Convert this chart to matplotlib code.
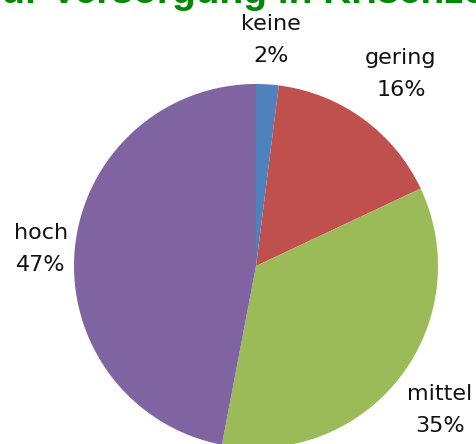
import matplotlib.pyplot as plt

labels = ["keine", "gering", "mittel", "hoch"]
shares = [2, 16, 35, 47]
colors = ["#4F81BD", "#C0504D", "#9BBB59", "#8064A2"]
title = "zur Versorgung in Krisenzeiten"

fig = plt.figure(figsize=(4.76, 4.44), dpi=100)
ax = fig.add_axes([0, 0, 1, 1])

ax.pie(shares, colors=colors, startangle=90, counterclock=False,
       center=(256, 178), radius=182, frame=True)

# label positions in pixel coords (y from top)
label_pos = [(271, 40), (401, 74), (440, 410), (41, 249)]
for lab, val, (x, y) in zip(labels, shares, label_pos):
    ax.text(x, 444 - y, f"{lab}\n{val}%", ha="center", va="center",
            fontsize=16, linespacing=1.75, color="#111111")

ax.text(268, 444 - 3, title, ha="center", va="baseline", color="#008A00",
        fontsize=28, fontweight="bold", family="Liberation Sans")

ax.set_xlim(0, 476)
ax.set_ylim(0, 444)
ax.set_aspect("equal")
ax.axis("off")

fig.savefig("out.png", dpi=100)
